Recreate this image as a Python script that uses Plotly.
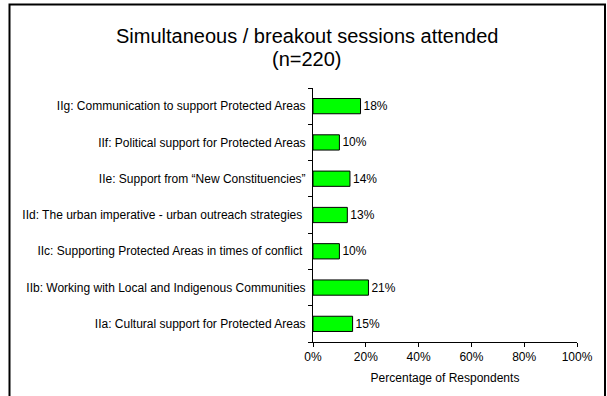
import plotly.graph_objects as go

# Sessions listed bottom-to-top (Plotly draws the first category at the bottom)
sessions = [
    "IIa: Cultural support for Protected Areas",
    "IIb: Working with Local and Indigenous Communities",
    "IIc: Supporting Protected Areas in times of conflict\u00a0",
    "IId: The urban imperative - urban outreach strategies\u00a0",
    "IIe: Support from \u201cNew Constituencies\u201d",
    "IIf: Political support for Protected Areas",
    "IIg: Communication to support Protected Areas",
]
percent_attended = [15, 21, 10, 13, 14, 10, 18]
x_ticks = [0, 20, 40, 60, 80, 100]
x_tick_labels = ["0%", "20%", "40%", "60%", "80%", "100%"]
title_lines = ["Simultaneous / breakout sessions attended", "(n=220)"]

W, H = 607, 396
L, R, T, B = 313, 30, 88, 54
font = "Liberation Sans, Arial, sans-serif"

fig = go.Figure(
    go.Bar(
        x=percent_attended,
        y=sessions,
        orientation="h",
        width=0.42,
        marker=dict(color="#00FF00", line=dict(color="black", width=1)),
        texttemplate="%{x}%",
        textposition="outside",
        textfont=dict(family=font, size=12, color="black"),
        cliponaxis=False,
        hoverinfo="skip",
    )
)

# Pixel -> paper coordinate helpers for the frame and title placement
pw, ph = W - L - R, H - T - B
def px(x):
    return (x - L) / pw
def py(y):
    return (H - B - y) / ph

# Open frame around the chart: top, left and right edges
fig.add_shape(type="path", xref="paper", yref="paper", layer="above",
              path=(f"M {px(9.5)},{py(420)} L {px(9.5)},{py(4.5)} "
                    f"L {px(605)},{py(4.5)} L {px(605)},{py(420)}"),
              line=dict(color="black", width=2))

for text, ypix in zip(title_lines, [36, 59]):
    fig.add_annotation(
        text=text, xref="paper", yref="paper",
        x=px(307), y=py(ypix), xanchor="center", yanchor="middle",
        showarrow=False,
        font=dict(family=font, size=20, color="black"),
    )

fig.update_layout(
    width=W,
    height=H,
    margin=dict(l=L, r=R, t=T, b=B),
    paper_bgcolor="white",
    plot_bgcolor="white",
    showlegend=False,
    font=dict(family=font, size=12, color="black"),
    xaxis=dict(
        range=[0, 100],
        tickvals=x_ticks,
        ticktext=x_tick_labels,
        showgrid=False,
        zeroline=False,
        showline=True,
        linecolor="black",
        linewidth=1,
        ticks="outside",
        ticklen=4,
        tickcolor="black",
        tickfont=dict(family=font, size=12, color="black"),
        title=dict(text="Percentage of Respondents",
                   font=dict(family=font, size=12, color="black"),
                   standoff=10),
        fixedrange=True,
    ),
    yaxis=dict(
        type="category",
        showgrid=False,
        showline=True,
        linecolor="black",
        linewidth=1,
        ticks="outside",
        tickson="boundaries",
        ticklen=4,
        tickcolor="black",
        ticklabelstandoff=4,
        tickfont=dict(family=font, size=12, color="black"),
        fixedrange=True,
    ),
)

fig.write_html("out.html", config={"displayModeBar": False})
